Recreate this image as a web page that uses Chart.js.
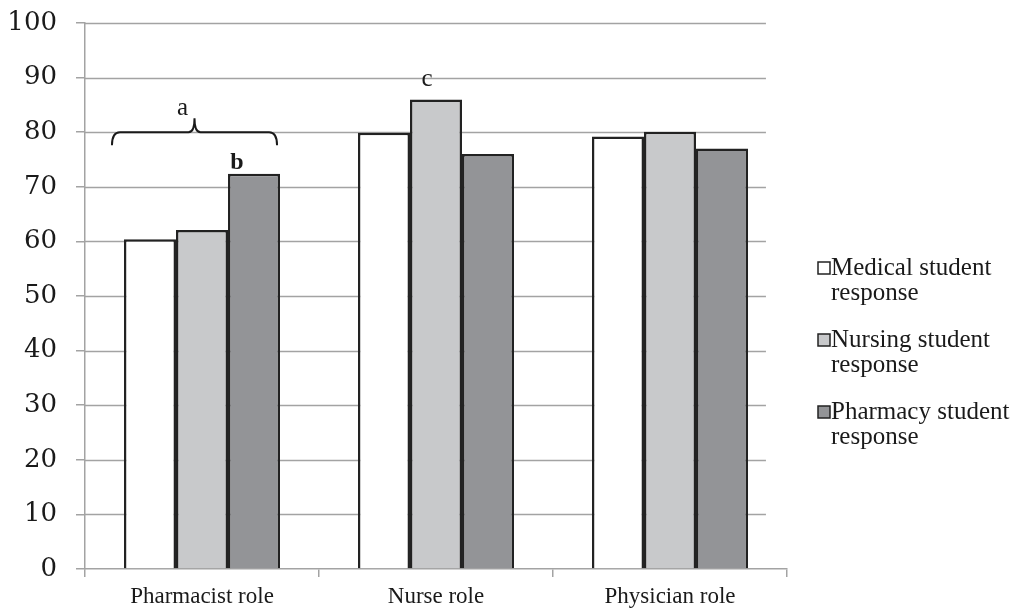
<!DOCTYPE html>
<html>
<head>
<meta charset="utf-8">
<script src="https://cdn.jsdelivr.net/npm/chart.js@4"></script>
<style>
    html, body { margin: 0; padding: 0; background: #fff; }
    #wrap { width: 1013px; height: 608px; }
</style>
</head>
<body>
<div id="wrap"><canvas id="roleChart" width="1013" height="608"></canvas></div>
<script>
// Data
const categories = ['Pharmacist role', 'Nurse role', 'Physician role'];
const medicalValues = [60.4, 79.9, 79.2];
const nursingValues = [62.1, 86.0, 80.1];
const pharmacyValues = [72.4, 76.0, 77.0];
const seriesNames = [
    ['Medical student', 'response'],
    ['Nursing student', 'response'],
    ['Pharmacy student', 'response']
];
const yTicks = [0, 10, 20, 30, 40, 50, 60, 70, 80, 90, 100];

const serif = "'Liberation Serif', 'Times New Roman', serif";
const gridGray = '#a3a3a3';

// Horizontal grid lines stop a little short of the right end of the x axis
const shortGrid = {
    id: 'shortGrid',
    beforeDatasetsDraw(chart) {
        const ctx = chart.ctx;
        const area = chart.chartArea;
        const yScale = chart.scales.y;
        const end = area.left + (area.right - area.left) * 0.97;
        ctx.save();
        ctx.strokeStyle = gridGray;
        ctx.lineWidth = 1.5;
        yScale.ticks.forEach(function (t) {
            if (t.value === 0) return;
            const y = Math.round(yScale.getPixelForValue(t.value)) + 0.5;
            ctx.beginPath();
            ctx.moveTo(area.left, y);
            ctx.lineTo(end, y);
            ctx.stroke();
        });
        ctx.restore();
    }
};

// Legend drawn by hand so each label can wrap onto two lines
const sideLegend = {
    id: 'sideLegend',
    afterDraw(chart) {
        const ctx = chart.ctx;
        const startY = 268;
        const gap = 72;
        ctx.save();
        ctx.font = '25px ' + serif;
        ctx.textBaseline = 'middle';
        ctx.textAlign = 'left';
        chart.data.datasets.forEach(function (ds, i) {
            const y = startY + i * gap;
            ctx.fillStyle = ds.backgroundColor;
            ctx.fillRect(818, y - 6, 12, 12);
            ctx.strokeStyle = '#222';
            ctx.lineWidth = 1.5;
            ctx.strokeRect(818, y - 6, 12, 12);
            ctx.fillStyle = '#1a1a1a';
            ds.legendLines.forEach(function (line, k) {
                ctx.fillText(line, 831, y + k * 25);
            });
        });
        ctx.restore();
    }
};

// Letters and bracket over the bars
const marks = {
    id: 'marks',
    afterDatasetsDraw(chart) {
        const ctx = chart.ctx;
        const yScale = chart.scales.y;
        const med = chart.getDatasetMeta(0).data;
        const nur = chart.getDatasetMeta(1).data;
        const pha = chart.getDatasetMeta(2).data;

        ctx.save();
        ctx.fillStyle = '#1a1a1a';
        ctx.strokeStyle = '#1a1a1a';
        ctx.textAlign = 'center';
        ctx.textBaseline = 'alphabetic';

        // bracket over pharmacist group
        const left = med[0].x - med[0].width / 2 - 12;
        const right = pha[0].x + pha[0].width / 2 - 3;
        const mid = (left + right) / 2;
        const by = yScale.getPixelForValue(80);
        ctx.lineWidth = 2;
        ctx.beginPath();
        ctx.moveTo(left, by + 13);
        ctx.quadraticCurveTo(left, by, left + 8, by);
        ctx.lineTo(mid - 6, by);
        ctx.quadraticCurveTo(mid, by, mid, by - 14);
        ctx.quadraticCurveTo(mid, by, mid + 6, by);
        ctx.lineTo(right - 8, by);
        ctx.quadraticCurveTo(right, by, right, by + 13);
        ctx.stroke();

        ctx.font = '25px ' + serif;
        ctx.fillText('a', mid - 12, by - 17);

        ctx.font = 'bold 24px ' + serif;
        ctx.fillText('b', pha[0].x - 17, pha[0].y - 5);

        ctx.font = '25px ' + serif;
        ctx.fillText('c', nur[1].x - 9, yScale.getPixelForValue(90) + 8);
        ctx.restore();
    }
};

document.addEventListener('DOMContentLoaded', function () {
    const ctx = document.getElementById('roleChart').getContext('2d');

    const barStyle = {
        borderColor: '#222',
        borderWidth: 2.5,
        borderSkipped: 'bottom',
        barPercentage: 1.0,
        categoryPercentage: 0.667
    };

    new Chart(ctx, {
        type: 'bar',
        data: {
            labels: categories,
            datasets: [
                Object.assign({ label: seriesNames[0].join(' '), legendLines: seriesNames[0], data: medicalValues, backgroundColor: '#ffffff' }, barStyle),
                Object.assign({ label: seriesNames[1].join(' '), legendLines: seriesNames[1], data: nursingValues, backgroundColor: '#c8c9cb' }, barStyle),
                Object.assign({ label: seriesNames[2].join(' '), legendLines: seriesNames[2], data: pharmacyValues, backgroundColor: '#939497' }, barStyle)
            ]
        },
        options: {
            responsive: false,
            animation: false,
            layout: {
                padding: { left: 0, right: 226, top: 23, bottom: 0 }
            },
            plugins: {
                legend: { display: false },
                tooltip: { enabled: false }
            },
            scales: {
                y: {
                    min: 0,
                    max: 100,
                    afterFit: function (scale) {
                        scale.width = 85;
                        scale.paddingTop = 0;
                        scale.paddingBottom = 0;
                    },
                    afterBuildTicks: function (scale) {
                        scale.ticks = yTicks.map(function (v) { return { value: v }; });
                    },
                    grid: {
                        drawOnChartArea: false,
                        drawTicks: true,
                        tickLength: 9,
                        color: gridGray,
                        lineWidth: 1.5
                    },
                    border: { display: true, color: gridGray, width: 1.5 },
                    ticks: {
                        padding: 19,
                        color: '#1a1a1a',
                        font: { size: 26, family: "'DejaVu Serif', serif" }
                    }
                },
                x: {
                    afterFit: function (scale) {
                        scale.height = 39;
                        scale.paddingLeft = 0;
                        scale.paddingRight = 0;
                    },
                    grid: {
                        offset: true,
                        drawOnChartArea: false,
                        drawTicks: true,
                        tickLength: 8,
                        color: gridGray,
                        lineWidth: 1.5
                    },
                    border: { display: true, color: gridGray, width: 1.5 },
                    ticks: {
                        padding: 6,
                        color: '#1a1a1a',
                        font: { size: 23, family: serif }
                    }
                }
            }
        },
        plugins: [shortGrid, marks, sideLegend]
    });
});
</script>
</body>
</html>
